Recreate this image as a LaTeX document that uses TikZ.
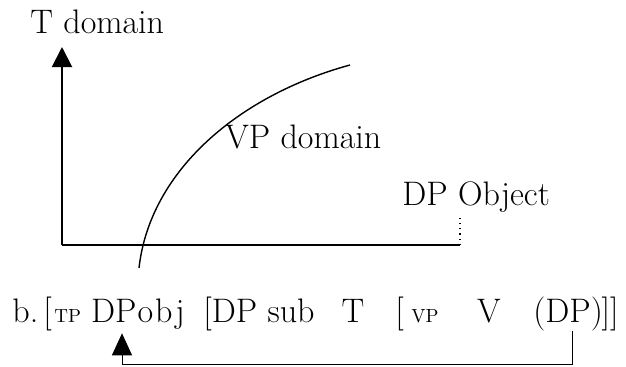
\documentclass[tikz,border=0pt]{standalone}
\usetikzlibrary{arrows.meta}

\tikzset{every node/.style={inner sep=0pt,font=\fontsize{17}{20}\selectfont},
  small/.style={font=\fontsize{9.5}{11}\selectfont}}

\begin{document}
\begin{tikzpicture}[x=0.5pt,y=-0.5pt]
\useasboundingbox (0,0) rectangle (626,366);
\coordinate (O) at (62,245);
\coordinate (top) at (62,47);
\coordinate (end) at (460,245);
\coordinate (low) at (0,364);
\draw[line width=1pt,-{Triangle[length=10pt,width=10pt]}] (O)--(top);
\draw[line width=1pt] (O)--(end);
\draw[dotted,line width=0.6pt] (end)--++(0,-31);
\draw[line width=0.7pt] (139,268) .. controls (150,170) and (240,95) .. (350,65);
\path
(30,33) node[anchor=base west](tdom){T domain}
(225,148) node[anchor=base west](vpdom){VP domain}
(402,205) node[anchor=base west](dpob){DP Object};
% sentence b.
\path
(12,322) node[anchor=base west](b){b.}
(43,322) node[anchor=base west](lb1){[}
(54,322) node[anchor=base west,small](tp){TP}
(138,322) node[anchor=base](dpobj){DP\kern.5pt o\kern1pt b\kern1.5pt j}
(203,322) node[anchor=base west](dpsub){[DP sub}
(353,322) node[anchor=base](t){T}
(395,322) node[anchor=base west](lb2){[}
(411,322) node[anchor=base west,small](vp){VP}
(489,322) node[anchor=base](v){V}
(533,322) node[anchor=base west](dp){(DP)};
\node[anchor=base west](rb) at ([xshift=-1pt]dp.base east){]]};
\draw[line width=0.5pt,-{Triangle[length=11pt,width=10pt]}] ([xshift=2pt]dp.south) -- ([xshift=2pt]dp.south |- low) -| ([xshift=-8pt,yshift=-2pt]dpobj.south);
\end{tikzpicture}
\end{document}
